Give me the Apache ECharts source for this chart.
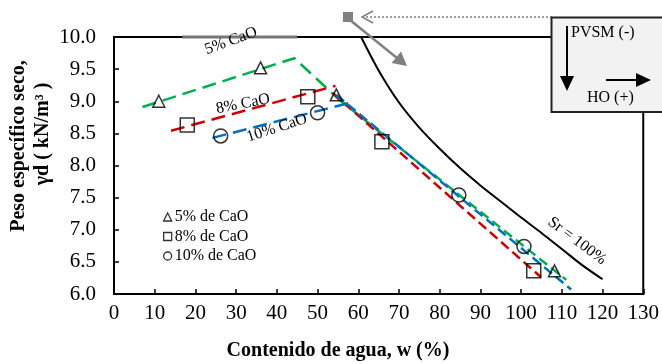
<!DOCTYPE html>
<html>
<head>
<meta charset="utf-8">
<style>
    html, body { margin: 0; padding: 0; background: #ffffff; }
    #chart { width: 662px; height: 364px; }
</style>
<script src="https://cdn.jsdelivr.net/npm/echarts@6/dist/echarts.min.js"></script>
</head>
<body>
<div id="chart"></div>
<script>
// ensayos (w %, peso especifico seco kN/m3)
const cal5 = [[11, 9.0], [36, 9.52], [54.6, 9.10], [108.2, 6.36]];
const cal8 = [[18, 8.63], [47.6, 9.07], [65.8, 8.37], [103.1, 6.36]];
const cal10 = [[26.2, 8.46], [50, 8.82], [84.7, 7.54], [100.7, 6.74]];

// tendencias (discontinuas)
const fit5Dry = [[7, 8.91], [44.3, 9.67], [55.4, 9.02]];
const fit5Wet = [[55.4, 9.02], [111.1, 6.22]];
const fit8Dry = [[14, 8.54], [54.4, 9.24]];
const fit8Wet = [[53.7, 9.13], [104.9, 6.26]];
const fit10Dry = [[24.2, 8.43], [58.2, 8.98]];
const fit10Wet = [[54.6, 9.10], [112.3, 6.07]];

// curva de saturacion Sr = 100%
const satCurve = [[60.7, 10.0], [65, 9.48], [70, 8.98], [75, 8.59], [80, 8.26], [85, 7.96], [90, 7.69], [95, 7.44], [100, 7.19], [105, 6.95], [110, 6.7], [115, 6.45], [120, 6.23]];

// franja gris sobre el marco superior
const topBand = [[16.8, 10], [45, 10]];

const legendNames = ['5% de CaO', '8% de CaO', '10% de CaO'];

const FONT = '"Liberation Serif", "Times New Roman", serif';
const GREEN = '#00b050';
const RED = '#d00000';
const BLUE = '#0070c0';
const GREY = '#808080';

function dashed(data, color, dash) {
    return {
        type: 'line',
        data: data,
        symbol: 'none',
        silent: true,
        lineStyle: { color: color, width: 2.5, type: dash }
    };
}

function points(name, data, symbol, size) {
    return {
        name: name,
        type: 'scatter',
        data: data,
        symbol: symbol,
        symbolSize: size,
        z: 5,
        itemStyle: { color: 'rgba(0,0,0,0)', borderColor: '#000', borderWidth: 1.5 }
    };
}

function label(text, x, y, deg, size, align, z) {
    return {
        type: 'text', x: x, y: y, rotation: deg * Math.PI / 180, z: z || 10,
        style: {
            text: text, font: size + 'px ' + FONT, fill: '#000',
            textAlign: align || 'center', textVerticalAlign: 'middle',
            align: align || 'center', verticalAlign: 'middle'
        }
    };
}

const chart = echarts.init(document.getElementById('chart'));

const options = {
    animation: false,
    backgroundColor: '#ffffff',
    grid: {
        left: 114,
        right: 18,
        top: 37,
        bottom: 70,
        show: true,
        borderColor: '#000',
        borderWidth: 2,
        backgroundColor: 'rgba(0,0,0,0)'
    },
    legend: {
        orient: 'vertical',
        left: 158,
        top: 204,
        itemWidth: 8,
        itemHeight: 8,
        itemGap: 3.5,
        selectedMode: false,
        data: legendNames,
        textStyle: { fontFamily: FONT, fontSize: 16, color: '#000', padding: [0, 0, 0, -2] },
        itemStyle: { color: 'rgba(0,0,0,0)', borderColor: '#000', borderWidth: 1.3 }
    },
    xAxis: {
        type: 'value',
        min: 0,
        max: 130,
        interval: 10,
        axisLine: { show: true, lineStyle: { color: '#000', width: 2 } },
        axisTick: { show: true, inside: true, length: 5, lineStyle: { color: '#000', width: 1.5 } },
        splitLine: { show: false },
        axisLabel: { fontFamily: FONT, fontSize: 21, color: '#000', margin: 9 }
    },
    yAxis: {
        type: 'value',
        min: 6,
        max: 10,
        interval: 0.5,
        axisLine: { show: true, lineStyle: { color: '#000', width: 2 } },
        axisTick: { show: true, inside: true, length: 5, lineStyle: { color: '#000', width: 1.5 } },
        splitLine: { show: false },
        axisLabel: {
            fontFamily: FONT, fontSize: 21, color: '#000', margin: 18,
            formatter: function (v) { return v.toFixed(1); }
        }
    },
    series: [
        {
            type: 'line',
            data: satCurve,
            smooth: 0.3,
            symbol: 'none',
            silent: true,
            lineStyle: { color: '#000', width: 2 }
        },
        {
            type: 'line',
            data: topBand,
            symbol: 'none',
            silent: true,
            clip: false,
            z: 3,
            lineStyle: { color: '#777', width: 3 }
        },
        dashed(fit5Dry, GREEN, [14, 7]),
        dashed(fit5Wet, GREEN, [10, 5]),
        dashed(fit8Dry, RED, [14, 7]),
        dashed(fit8Wet, RED, [10, 5]),
        dashed(fit10Dry, BLUE, [14, 7]),
        dashed(fit10Wet, BLUE, [10, 5]),
        points(legendNames[0], cal5, 'triangle', 12),
        points(legendNames[1], cal8, 'rect', 14),
        points(legendNames[2], cal10, 'circle', 14)
    ],
    graphic: [
        // nombres de ejes
        {
            type: 'text', x: 338, y: 351,
            style: { text: 'Contenido de agua, w (%)', font: 'bold 20px ' + FONT, fill: '#000',
                textAlign: 'center', textVerticalAlign: 'middle', align: 'center', verticalAlign: 'middle' }
        },
        {
            type: 'text', x: 19, y: 146, rotation: Math.PI / 2,
            style: { text: 'Peso específico seco,', font: 'bold 20px ' + FONT, fill: '#000',
                textAlign: 'center', textVerticalAlign: 'middle', align: 'center', verticalAlign: 'middle' }
        },
        {
            type: 'text', x: 43, y: 134, rotation: Math.PI / 2,
            style: { text: 'γd ( kN/m³ )', font: 'bold 20px ' + FONT, fill: '#000',
                textAlign: 'center', textVerticalAlign: 'middle', align: 'center', verticalAlign: 'middle' }
        },
        // etiquetas de las tendencias
        label('5% CaO', 231, 41, 20, 16),
        label('8% CaO', 243, 104, 11, 16),
        label('10% CaO', 277, 128, 18, 16),
        label('Sr = 100%', 577, 241, -37, 16),
        // flechas grises
        {
            type: 'line', z: 20,
            shape: { x1: 362, y1: 17, x2: 552, y2: 17 },
            style: { stroke: GREY, lineWidth: 1.5, lineDash: [2, 2] }
        },
        {
            type: 'polyline', z: 20,
            shape: { points: [[373, 11], [362, 17], [373, 23]] },
            style: { stroke: GREY, lineWidth: 1.5, fill: null }
        },
        {
            type: 'rect', z: 20,
            shape: { x: 343, y: 12, width: 10, height: 10 },
            style: { fill: GREY }
        },
        {
            type: 'line', z: 20,
            shape: { x1: 350, y1: 20, x2: 397, y2: 58 },
            style: { stroke: GREY, lineWidth: 2.5 }
        },
        {
            type: 'polygon', z: 20,
            shape: { points: [[391.5, 63], [401, 51.5], [407, 66]] },
            style: { fill: GREY }
        },
        // recuadro PVSM / HO
        {
            type: 'rect', z: 30,
            shape: { x: 551.5, y: 17.5, width: 120, height: 94.5 },
            style: { fill: '#f2f2f2', stroke: '#222', lineWidth: 2 }
        },
        {
            type: 'line', z: 31,
            shape: { x1: 567, y1: 26, x2: 567, y2: 78 },
            style: { stroke: '#000', lineWidth: 2 }
        },
        {
            type: 'polygon', z: 31,
            shape: { points: [[560, 76], [574, 76], [567, 91]] },
            style: { fill: '#000' }
        },
        {
            type: 'line', z: 31,
            shape: { x1: 606, y1: 80, x2: 638, y2: 80 },
            style: { stroke: '#000', lineWidth: 2 }
        },
        {
            type: 'polygon', z: 31,
            shape: { points: [[636, 73], [636, 87], [651, 80]] },
            style: { fill: '#000' }
        },
        label('PVSM (-)', 571, 33, 0, 16, 'left', 32),
        label('HO (+)', 587, 98, 0, 16, 'left', 32)
    ]
};

chart.setOption(options);
</script>
</body>
</html>
